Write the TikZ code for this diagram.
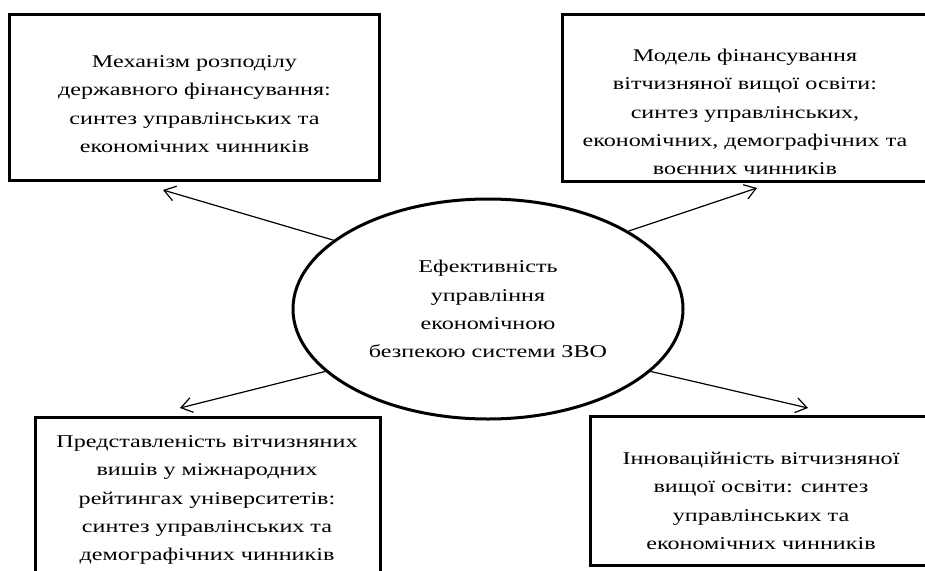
\documentclass[tikz,border=0pt]{standalone}
\usepackage{fontspec}
\setmainfont{Liberation Serif}[FakeStretch=1.34]
\usepackage{tikz}
\usepackage{xcolor}
\usetikzlibrary{positioning,arrows.meta,shapes,shapes.geometric}
\newcommand{\napysfont}{\fontsize{18pt}{28.3pt}\selectfont}

\begin{document}
\begin{tikzpicture}[x=1pt,y=-1pt,
	chynnyk/.style={draw, line width=3pt, shape=rectangle, inner sep=0pt},
	napys/.style={align=center, font=\napysfont, inner sep=0pt},
	strilka/.style={line width=1.2pt, -{Straight Barb[length=11pt,width=15pt]}}
	]
				\useasboundingbox (0,0) rectangle (925,570);
				\clip (0,0) rectangle (925,570);
				% central ellipse
				\node (eff) [draw, line width=3pt, shape=ellipse, minimum width=390pt, minimum height=220pt, inner sep=0pt, napys] at (488,309) {Ефективність\\управління\\економічною\\безпекою системи ЗВО};
				% boxes
				\node (mekh) [chynnyk, minimum width=370pt, minimum height=166pt] at (194.5,97) {};
				\node (model) [chynnyk, minimum width=368pt, minimum height=167pt] at (746,97.5) {};
				\node (reit) [chynnyk, minimum width=345pt, minimum height=183pt] at (207.5,508.5) {};
				\node (innov) [chynnyk, minimum width=342pt, minimum height=149pt] at (761,490.5) {};
				% texts
				\node (mekhtext) [napys] at (194.5,104) {Механізм розподілу\\державного фінансування:\\синтез управлінських та\\економічних чинників};
				\node (modeltext) [napys] at (745,112) {Модель фінансування\\вітчизняної вищої освіти:\\синтез управлінських,\\економічних, демографічних та\\воєнних чинників};
				\node (reittext) [napys] at (207,500) {Представленість вітчизняних\\вишів у міжнародних\\рейтингах університетів:\\синтез управлінських та\\демографічних чинників};
				\node (innovtext) [napys] at (761,501) {Інноваційність вітчизняної\\вищої освіти: синтез\\управлінських та\\економічних чинників};
				\coordinate []  (mekhend) at (163,190) ;
				\coordinate []  (modelend) at (757,188) ;
				\coordinate []  (reitend) at (180,408) ;
				\coordinate []  (innovend) at (808,408) ;
				\draw[strilka] (eff.156) -- (mekhend);
				\draw[strilka] (eff.29) -- (modelend);
				\draw[strilka] (eff.201.5) -- (reitend);
				\draw[strilka] (eff.-21) -- (innovend);
			\end{tikzpicture}
\end{document}
